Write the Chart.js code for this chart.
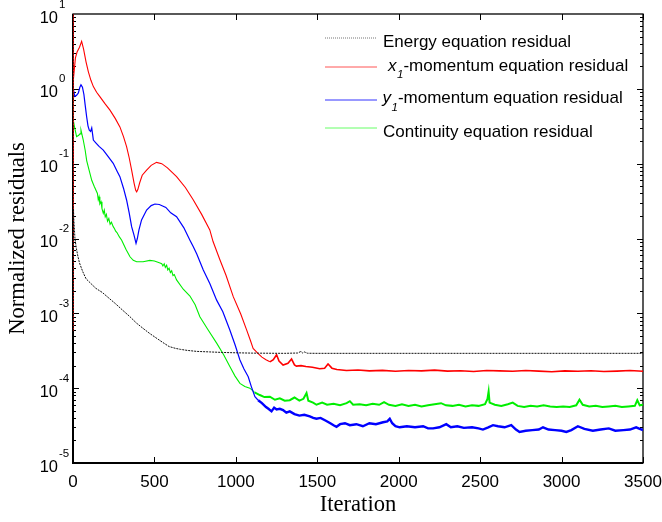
<!DOCTYPE html>
<html><head><meta charset="utf-8">
<script src="https://cdn.jsdelivr.net/npm/chart.js@4.4.1/dist/chart.umd.min.js"></script>
<style>html,body{margin:0;padding:0;background:#fff}#wrap{width:662px;height:522px;position:relative}</style>
</head><body><div id="wrap"><canvas id="c" width="662" height="522"></canvas></div>
<script>
// ---------------- data ----------------
const energyIter=[0,1,3,5,12,20,30,40,60,80,110,140,180,220,260,305,350,390,430,470,510,550,590,630,660,700,760,840,920,1000,1100,1300,1380,1400,1410,1420,1440,1500,2000,2500,3000,3500];
const energyVal=[10,6e-4,0.025,0.018,0.010,0.0075,0.0058,0.0047,0.0036,0.0029,0.0025,0.00216,0.0019,0.0016,0.00135,0.0011,0.0009,0.00074,0.00063,0.00054,0.00047,0.00041,0.00036,0.00034,0.00033,0.00032,0.00031,0.000305,0.0003,0.000297,0.000294,0.000292,0.000295,0.00031,0.000295,0.000305,0.000293,0.000292,0.000292,0.000292,0.000292,0.000292];

const xmomIter=[0,1,3,8,15,25,40,53,65,80,94,110,125,145,166,195,227,260,288,310,329,345,360,375,385,391,398,410,425,452,480,513,545,580,636,690,738,790,840,860,902,940,984,1030,1066,1090,1106,1137,1160,1185,1209,1230,1250,1265,1290,1320,1342,1360,1372,1400,1430,1470,1515,1545,1566,1590,1620,1679,1750,1820,1900,1980,2060,2140,2220,2300,2380,2460,2540,2620,2700,2780,2860,2940,3020,3100,3180,3260,3340,3420,3500];
const xmomVal=[6e-4,10,1.3,1.8,2.6,3.1,3.6,4.3,3.4,2.3,1.7,1.3,1.07,0.9,0.78,0.64,0.52,0.4,0.31,0.23,0.169,0.12,0.082,0.055,0.044,0.042,0.045,0.056,0.07,0.082,0.095,0.104,0.1,0.088,0.067,0.048,0.033,0.021,0.013,0.0091,0.0052,0.0032,0.00167,0.00098,0.0006,0.00043,0.00034,0.00029,0.00026,0.00024,0.000225,0.00024,0.00028,0.00023,0.000204,0.000215,0.000245,0.000205,0.000197,0.0002,0.000195,0.00019,0.000182,0.000185,0.00021,0.000185,0.000178,0.000172,0.000175,0.00017,0.000173,0.000168,0.000172,0.00017,0.000174,0.000169,0.000171,0.000167,0.000172,0.00017,0.000168,0.000172,0.000169,0.000166,0.00017,0.000168,0.000171,0.000167,0.000169,0.000172,0.000168];

const ymomIter=[0,5,12,22,33,42,49,58,67,75,84,92,100,108,115,120,125,140,160,186,215,247,270,288,310,329,345,360,375,387,395,405,421,452,480,503,530,570,600,636,680,718,738,760,800,840,882,920,963,995,1025,1050,1076,1095,1117,1137,1160,1185,1200,1219,1235,1250,1270,1290,1310,1331,1360,1390,1420,1454,1475,1495,1520,1550,1580,1600,1618,1640,1670,1700,1740,1780,1820,1860,1904,1930,1945,1960,1980,2006,2050,2100,2150,2180,2211,2250,2292,2320,2360,2400,2450,2490,2517,2550,2579,2610,2650,2691,2720,2742,2780,2820,2860,2886,2920,2960,3000,3029,3060,3100,3140,3192,3240,3290,3330,3380,3420,3458,3480,3500];
const ymomVal=[0.95,0.9,0.79,0.82,0.88,1.05,1.13,1.05,0.84,0.6,0.42,0.32,0.28,0.27,0.3,0.25,0.207,0.19,0.17,0.152,0.125,0.101,0.08,0.067,0.047,0.0327,0.022,0.0144,0.011,0.0086,0.01,0.013,0.0177,0.024,0.0275,0.0289,0.0285,0.026,0.022,0.0196,0.014,0.0095,0.0078,0.0062,0.0038,0.0025,0.0015,0.00105,0.0006,0.00038,0.000238,0.00018,0.000142,0.000105,7.7e-5,6.9e-5,6.3e-5,5.6e-5,5.3e-5,4.9e-5,5.5e-5,5.2e-5,5.3e-5,5.1e-5,4.7e-5,4.9e-5,4.5e-5,4.3e-5,4.4e-5,4.2e-5,4.0e-5,3.9e-5,4.0e-5,3.7e-5,3.4e-5,3.2e-5,3.05e-5,3.3e-5,3.4e-5,3.2e-5,3.3e-5,3.1e-5,3.4e-5,3.3e-5,3.5e-5,3.6e-5,3.9e-5,3.4e-5,3.1e-5,3.0e-5,3.1e-5,3.0e-5,3.1e-5,2.9e-5,2.9e-5,3.0e-5,3.3e-5,3.0e-5,3.1e-5,2.95e-5,3.0e-5,2.9e-5,2.8e-5,3.0e-5,3.2e-5,3.1e-5,3.0e-5,3.2e-5,2.8e-5,2.6e-5,2.7e-5,2.75e-5,2.8e-5,3.0e-5,2.8e-5,2.75e-5,2.7e-5,2.6e-5,2.75e-5,3.1e-5,2.85e-5,2.7e-5,2.8e-5,2.9e-5,2.7e-5,2.75e-5,2.8e-5,3.0e-5,2.85e-5,2.75e-5];

const contIter=[0,2,8,22,35,43,49,56,63,75,84,100,115,130,150,155,160,165,172,178,186,192,198,205,212,220,228,236,247,255,262,270,285,299,325,350,370,391,430,472,500,534,545,552,560,567,575,582,590,598,606,614,622,636,677,718,750,779,830,882,925,963,995,1025,1055,1086,1115,1147,1175,1209,1240,1270,1300,1331,1360,1390,1415,1434,1445,1474,1495,1530,1560,1600,1640,1680,1700,1720,1760,1800,1840,1880,1910,1940,1980,2020,2060,2100,2140,2180,2220,2260,2290,2330,2370,2410,2450,2490,2530,2545,2552,2558,2590,2630,2670,2700,2730,2770,2810,2850,2890,2930,2970,3010,3050,3090,3110,3130,3170,3210,3250,3290,3330,3370,3410,3450,3465,3480,3500];
const contVal=[1.0,0.38,0.32,0.23,0.24,0.25,0.28,0.24,0.207,0.15,0.11,0.08,0.06,0.05,0.040,0.033,0.036,0.029,0.031,0.025,0.0217,0.024,0.0195,0.021,0.017,0.0185,0.0155,0.0165,0.0144,0.0135,0.0125,0.012,0.0105,0.0095,0.0072,0.0057,0.0051,0.0049,0.0049,0.0051,0.005,0.0047,0.0046,0.0043,0.0046,0.0041,0.0044,0.0038,0.004,0.0035,0.0037,0.0032,0.0033,0.0028,0.0021,0.0017,0.0013,0.0009,0.0006,0.0004,0.00028,0.000195,0.000145,0.000116,0.000105,0.0001,8.8e-5,8.1e-5,7.6e-5,7.7e-5,7.0e-5,7.3e-5,6.8e-5,6.9e-5,7.5e-5,6.8e-5,7.2e-5,8.6e-5,6.8e-5,6.4e-5,6.0e-5,6.4e-5,6.0e-5,6.2e-5,5.9e-5,6.3e-5,6.7e-5,6.0e-5,6.1e-5,5.9e-5,6.2e-5,6.0e-5,6.5e-5,6.0e-5,5.8e-5,6.1e-5,5.8e-5,6.0e-5,5.7e-5,5.9e-5,6.1e-5,6.3e-5,5.9e-5,5.8e-5,6.0e-5,5.7e-5,5.9e-5,5.8e-5,6.1e-5,7.2e-5,9.0e-5,6.4e-5,6.0e-5,5.8e-5,6.1e-5,6.4e-5,5.8e-5,5.6e-5,5.8e-5,5.7e-5,5.9e-5,5.7e-5,5.6e-5,5.7e-5,5.6e-5,5.9e-5,7.0e-5,6.0e-5,5.7e-5,5.8e-5,5.6e-5,5.7e-5,5.8e-5,5.6e-5,5.7e-5,5.8e-5,6.9e-5,5.9e-5,6.0e-5];

const xTickValues=[0,500,1000,1500,2000,2500,3000,3500];
const yDecades=[1,0,-1,-2,-3,-4,-5];
const seriesNames=['Energy equation residual','x1-momentum equation residual','y1-momentum equation residual','Continuity equation residual'];
const seriesColors=['#111111','#ff0000','#0000ff','#00ee00'];
const legendColors=['#777777','#ff5555','#3333ff','#66ff66'];

// ---------------- chart ----------------
function pts(xs,ys){return xs.map((x,i)=>({x:x,y:ys[i]}));}
function widthAfter(limit,thin,thick){return ctx=>(ctx.p0.parsed.x>=limit?thick:thin);}

const axesPlugin={
  id:'axesPlugin',
  beforeDatasetsDraw(chart){
    const ctx=chart.ctx, a=chart.chartArea, xs=chart.scales.x, ys=chart.scales.y;
    ctx.save();
    ctx.strokeStyle='#000';
    ctx.lineWidth=1;
    ctx.beginPath();
    for(const v of xTickValues){
      const px=Math.round(xs.getPixelForValue(v))+0.5;
      ctx.moveTo(px,a.bottom);ctx.lineTo(px,a.bottom-6);
      ctx.moveTo(px,a.top);ctx.lineTo(px,a.top+6);
    }
    for(let d=-5; d<=0; d++){
      for(let m=1;m<=9;m++){
        const v=m*Math.pow(10,d);
        const py=Math.round(ys.getPixelForValue(v))+0.5;
        const len=(m===1)?6:3;
        ctx.moveTo(a.left,py);ctx.lineTo(a.left+len,py);
        ctx.moveTo(a.right,py);ctx.lineTo(a.right-len,py);
      }
    }
    ctx.stroke();
    ctx.lineWidth=1.3;
    ctx.strokeRect(a.left,a.top,a.right-a.left,a.bottom-a.top);
    ctx.lineWidth=2;
    ctx.beginPath();ctx.moveTo(a.left,a.top);ctx.lineTo(a.left,a.bottom+1);ctx.moveTo(a.left-1,a.bottom);ctx.lineTo(a.right,a.bottom);ctx.stroke();
    ctx.fillStyle='#000';
    // y labels 10^n
    for(const n of yDecades){
      const py=ys.getPixelForValue(Math.pow(10,n));
      ctx.font='16.5px "Liberation Sans", Arial, sans-serif';
      ctx.textAlign='right';ctx.textBaseline='alphabetic';
      ctx.fillText('10',58,py+8.5);
      ctx.font='11.5px "Liberation Sans", Arial, sans-serif';
      ctx.textAlign='left';
      ctx.fillText(String(n),59,py-6.5);
    }
    // x labels
    ctx.font='17px "Liberation Sans", Arial, sans-serif';
    ctx.textAlign='center';ctx.textBaseline='alphabetic';
    for(const v of xTickValues){
      ctx.fillText(String(v),xs.getPixelForValue(v),486.5);
    }
    ctx.restore();
  },
  afterDatasetsDraw(chart){
    const ctx=chart.ctx;
    ctx.save();
    const lineY=[38,67,100,128];
    const baseY=[46.7,70.7,103.3,136.7];
    for(let i=0;i<4;i++){
      ctx.strokeStyle=legendColors[i];
      ctx.lineWidth=1;
      ctx.setLineDash(i===0?[1,1]:[]);
      ctx.beginPath();ctx.moveTo(325,lineY[i]);ctx.lineTo(377,lineY[i]);ctx.stroke();
    }
    ctx.setLineDash([]);
    ctx.fillStyle='#000';ctx.textAlign='left';ctx.textBaseline='alphabetic';
    const f='17px "Liberation Sans", Arial, sans-serif';
    const fi='italic 17px "Liberation Sans", Arial, sans-serif';
    const fs='italic 11.5px "Liberation Sans", Arial, sans-serif';
    ctx.font=f;
    ctx.fillText(seriesNames[0],383,baseY[0]);
    ctx.fillText(seriesNames[3],383,baseY[3]);
    const rows=[[1,'x',388],[2,'y',382.5]];
    for(const [i,ch,x0] of rows){
      let x=x0;
      ctx.font=fi;ctx.fillText(ch,x,baseY[i]);x+=ctx.measureText(ch).width+0.5;
      ctx.font=fs;ctx.fillText('1',x,baseY[i]+7.5);x+=ctx.measureText('1').width;
      ctx.font=f;ctx.fillText(seriesNames[i].slice(2),x,baseY[i]);
    }
    ctx.restore();
  }
};

const chart=new Chart(document.getElementById('c'),{
  type:'line',
  data:{datasets:[
    {label:seriesNames[0],data:pts(energyIter,energyVal),borderColor:seriesColors[0],borderWidth:1,borderDash:[2,1]},
    {label:seriesNames[1],data:pts(xmomIter,xmomVal),borderColor:seriesColors[1],borderWidth:1.1,segment:{borderWidth:widthAfter(1200,1.1,1.6)}},
    {label:seriesNames[2],data:pts(ymomIter,ymomVal),borderColor:seriesColors[2],borderWidth:1.2,segment:{borderWidth:widthAfter(1130,1.2,2.4)}},
    {label:seriesNames[3],data:pts(contIter,contVal),borderColor:seriesColors[3],borderWidth:1.1,segment:{borderWidth:widthAfter(1100,1.1,2.0)}}
  ]},
  options:{
    responsive:false,animation:false,
    layout:{padding:{left:0,top:14,right:19,bottom:0}},
    elements:{point:{radius:0},line:{tension:0}},
    plugins:{legend:{display:false},tooltip:{enabled:false}},
    scales:{
      x:{type:'linear',min:0,max:3500,
        ticks:{display:false},
        grid:{display:false,drawTicks:false},border:{display:false},
        title:{display:true,text:'Iteration',color:'#000',font:{family:'"Liberation Serif", "Times New Roman", serif',size:22.6},padding:{top:0,bottom:3}},
        afterFit(s){s.height=59;s.paddingLeft=0;s.paddingRight=0;}
      },
      y:{type:'logarithmic',min:1e-5,max:10,
        ticks:{display:false},
        grid:{display:false,drawTicks:false},border:{display:false},
        title:{display:true,text:'Normalized residuals',color:'#000',font:{family:'"Liberation Serif", "Times New Roman", serif',size:22.6},padding:{top:5,bottom:5}},
        afterFit(s){s.width=73;}
      }
    }
  },
  plugins:[axesPlugin]
});
</script></body></html>
